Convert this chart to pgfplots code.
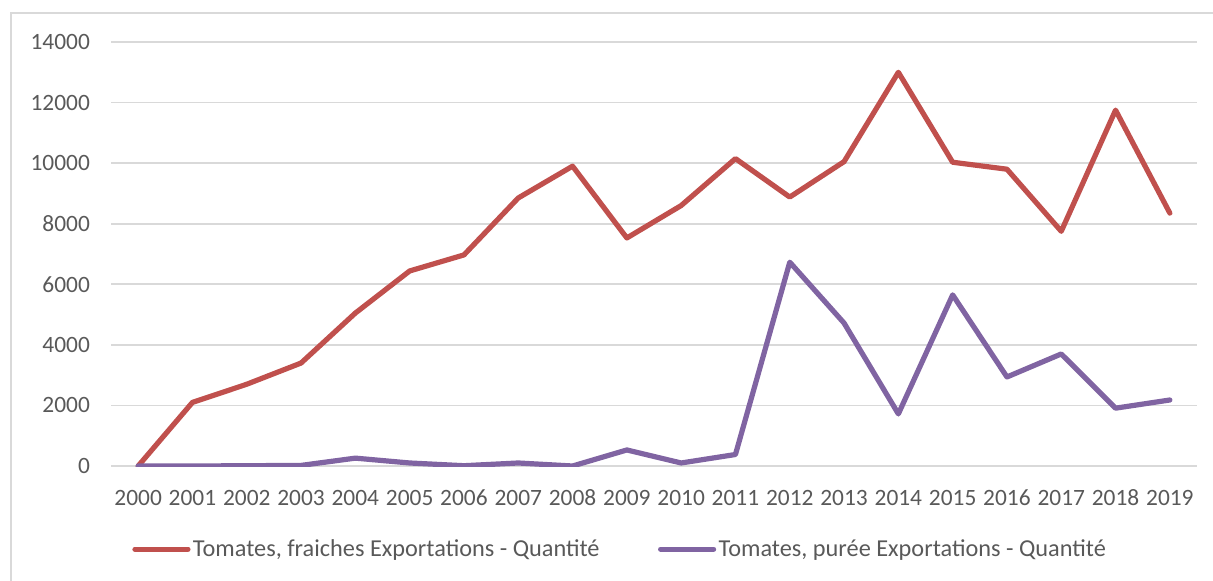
\documentclass[border=0pt]{standalone}
\usepackage{fontspec}
\setmainfont{Carlito}
\usepackage{pgfplots}
\pgfplotsset{compat=1.18}
\definecolor{cred}{HTML}{C0504D}
\definecolor{cpurple}{HTML}{8064A2}
\definecolor{ctext}{HTML}{595959}
\definecolor{cgrid}{HTML}{D9D9D9}
\begin{document}
\begin{tikzpicture}
\useasboundingbox (0,0) rectangle (606.5pt,290pt);
\draw[cgrid, line width=0.8pt] (5.5pt,-10pt) -- (5.5pt,283.5pt) -- (620pt,283.5pt);
\begin{axis}[
  at={(55.5pt,57pt)}, anchor=south west,
  scale only axis, width=543pt, height=212pt,
  xmin=-0.5, xmax=19.5, ymin=0, ymax=14000,
  xtick={0,...,19},
  xticklabels={2000,2001,2002,2003,2004,2005,2006,2007,2008,2009,2010,2011,2012,2013,2014,2015,2016,2017,2018,2019},
  ytick={0,2000,...,14000},
  scaled y ticks=false,
  /pgf/number format/assume math mode=true,
  yticklabel={\pgfmathprintnumber[fixed,1000 sep={}]{\tick}},
  ymajorgrids, grid style={cgrid, line width=0.8pt},
  axis line style={draw=none}, major tick length=0pt,
  tick label style={font=\fontsize{11.7}{13}\selectfont, text=ctext},
  yticklabel style={xshift=-7pt},
  xticklabel style={yshift=-7.5pt, text height=8.5pt, text depth=0pt},
  legend style={at={(0.469,-0.196)}, anchor=center, draw=none, fill=none,
    legend columns=2, font=\fontsize{12.15}{13}\selectfont, text=ctext,
    /tikz/every even column/.append style={column sep=28pt},
    nodes={inner sep=1.2pt}},
  legend image code/.code={\draw[#1, line cap=round] (0pt,0pt) -- (26.5pt,0pt);},
]
\addplot[cred, line width=2.6pt, line join=round, line cap=round] coordinates {
(0,0) (1,2100) (2,2700) (3,3400) (4,5050) (5,6440) (6,6970) (7,8850) (8,9900) (9,7530)
(10,8600) (11,10150) (12,8880) (13,10050) (14,13000) (15,10030) (16,9800) (17,7750) (18,11750) (19,8350)};
\addlegendentry{Tomates, fraiches Exportations - Quantité}
\addplot[cpurple, line width=2.6pt, line join=round, line cap=round] coordinates {
(0,0) (1,0) (2,10) (3,20) (4,260) (5,100) (6,10) (7,100) (8,0) (9,530)
(10,100) (11,380) (12,6730) (13,4720) (14,1720) (15,5650) (16,2940) (17,3700) (18,1910) (19,2180)};
\addlegendentry{Tomates, purée Exportations - Quantité}
\end{axis}
\end{tikzpicture}
\end{document}
